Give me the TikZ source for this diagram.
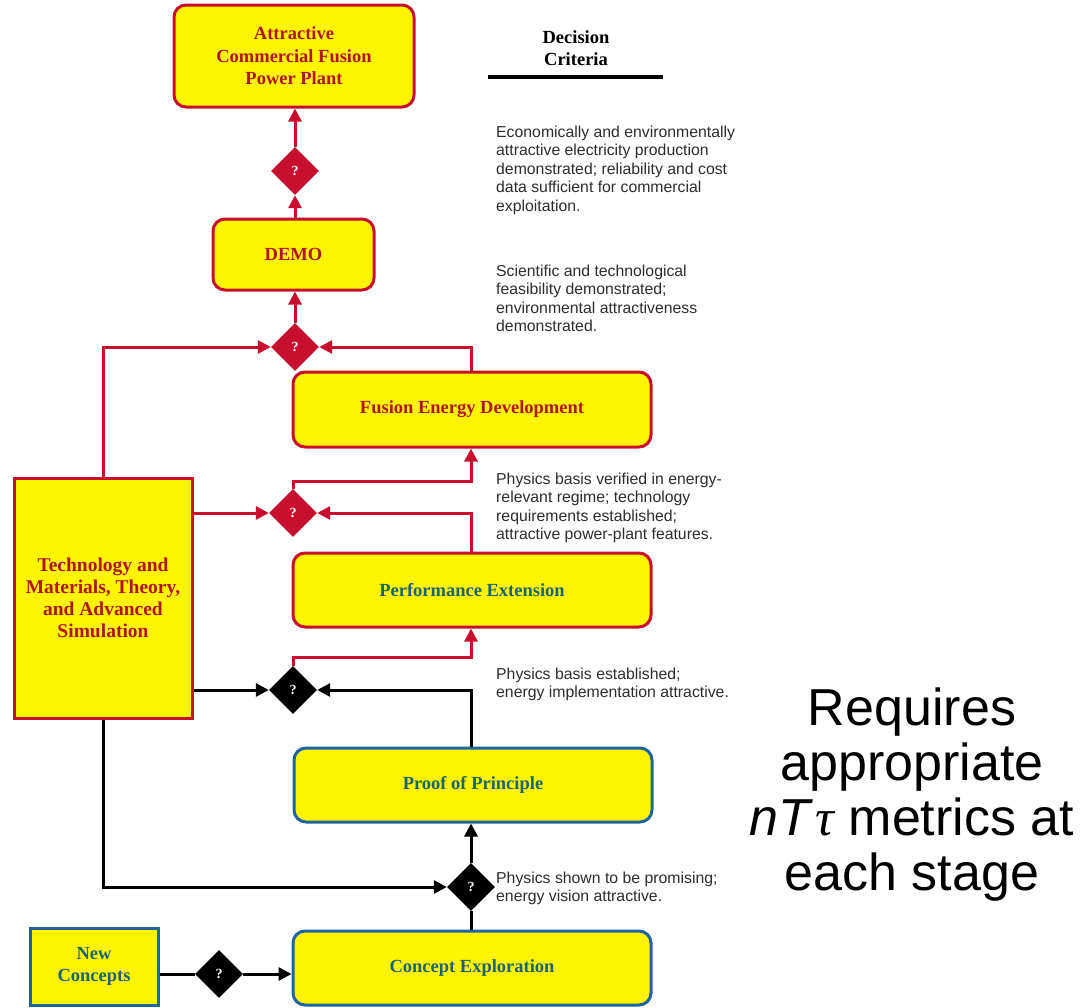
\documentclass[tikz,border=0pt]{standalone}
\usepackage{fontspec}
\setmainfont{Liberation Serif}
\newfontfamily\critfont{Liberation Sans}
\newfontfamily\greekfont{Liberation Serif}
\usetikzlibrary{shapes.geometric,arrows.meta}

\definecolor{fyellow}{RGB}{255,244,0}
\definecolor{fred}{RGB}{200,16,46}
\definecolor{ftext}{RGB}{176,22,30}
\definecolor{fteal}{RGB}{28,100,112}
\definecolor{fblue}{RGB}{30,100,160}
\definecolor{fgray}{RGB}{45,45,45}

\begin{document}
\begin{tikzpicture}[x=1pt,y=-1pt,
  stage/.style={draw=fred, fill=fyellow, line width=3pt, rounded corners=12pt,
    inner sep=0pt, align=center, text=ftext,
    font=\bfseries\fontsize{18.5}{22.5}\selectfont},
  bluestage/.style={stage, draw=fblue, text=fteal},
  gate/.style={diamond, aspect=1, minimum width=48pt, minimum height=48pt,
    inner sep=0pt, text=white, font=\bfseries\fontsize{14}{14}\selectfont},
  redgate/.style={gate, fill=fred},
  blackgate/.style={gate, fill=black},
  redflow/.style={draw=fred, line width=3pt},
  blackflow/.style={draw=black, line width=3pt},
  tip/.style={-{Triangle[length=13pt,width=13pt]}},
  % multi-line notes: the base anchor sits on the last line
  note/.style={anchor=base west, align=left, inner sep=0pt, text=fgray,
    font=\critfont\fontsize{15.8}{18.5}\selectfont}
]
\useasboundingbox[fill=white] (0,0) rectangle (1086,1007);

% stages
\node[stage, minimum width=240pt, minimum height=102pt] (plant) at (294,56)
  {Attractive\\Commercial Fusion\\Power Plant};
\node[stage, minimum width=161pt, minimum height=71pt] (demo) at (293.5,254.5) {DEMO};
\node[stage, minimum width=358pt, minimum height=75pt] (fed) at (472,409.5)
  {Fusion Energy Development};
\node[stage, text=fteal, minimum width=358pt, minimum height=74pt] (perf) at (472,590)
  {Performance Extension};
\node[bluestage, minimum width=358pt, minimum height=74pt] (pop) at (473,785)
  {Proof of Principle};
\node[bluestage, minimum width=358pt, minimum height=74pt] (cexp) at (472,968)
  {Concept Exploration};
\node[stage, rounded corners=0pt, minimum width=178pt, minimum height=240pt,
  font=\bfseries\fontsize{19.5}{22}\selectfont] (tech) at (103,598)
  {Technology and\\Materials, Theory,\\and Advanced\\Simulation};
\node[bluestage, rounded corners=0pt, minimum width=128pt, minimum height=77pt] (newc) at (94,966.5)
  {New\\Concepts};

% decision gates
\node[redgate] (g1) at (295,171) {?};
\node[redgate] (g2) at (295,347) {?};
\node[redgate] (g3) at (293,513) {?};
\node[blackgate] (g4) at (293,690) {?};
\node[blackgate] (g5) at (471,887) {?};
\node[blackgate] (g6) at (219,974) {?};

% flow
\draw[redflow,tip] (g1.north) -- (g1.north |- plant.south);
\draw[redflow,tip] (g1.south |- demo.north) -- (g1.south);
\draw[redflow,tip] (g2.north) -- (g2.north |- demo.south);
\draw[redflow,tip] (tech.north) |- (g2.west);
\draw[redflow,tip] (fed.north -| g5) |- (g2.east);
\draw[redflow,tip] (g3.north) -- ++(0,-7) -| (fed.south -| g5);
\draw[redflow,tip] (tech.east |- g3.west) -- (g3.west);
\draw[redflow,tip] (perf.north -| g5) |- (g3.east);
\draw[redflow,tip] (g4.north) -- ++(0,-8) -| (perf.south -| g5);
\draw[blackflow,tip] (tech.east |- g4.west) -- (g4.west);
\draw[blackflow,tip] (pop.north -| g5) |- (g4.east);
\draw[blackflow,tip] (g5.north) -- (g5.north |- pop.south);
\draw[blackflow,tip] (tech.south) |- (g5.west);
\draw[blackflow] (cexp.north -| g5) -- (g5.south);
\draw[blackflow] (newc.east |- g6.west) -- (g6.west);
\draw[blackflow,tip] (g6.east) -- (cexp.west |- g6.east);

% decision criteria column
\node[align=center, inner sep=0pt, font=\bfseries\fontsize{18.5}{22}\selectfont] (head) at (576,48)
  {Decision\\Criteria};
\draw[line width=4pt] (488,77) -- (663,77);

\node[note] (c1) at (496,211) {Economically and environmentally\\attractive electricity production\\demonstrated; reliability and cost\\data sufficient for commercial\\exploitation.};
\node[note] (c2) at (496,331.5) {Scientific and technological\\feasibility demonstrated;\\environmental attractiveness\\demonstrated.};
\node[note] (c3) at (496,539.5) {Physics basis verified in energy-\\relevant regime; technology\\requirements established;\\attractive power-plant features.};
\node[note] (c4) at (496,697.5) {Physics basis established;\\energy implementation attractive.};
\node[note] (c5) at (496,901.5) {Physics shown to be promising;\\energy vision attractive.};

% side remark
\node[align=center, inner sep=0pt, anchor=base, font=\critfont\fontsize{52}{55}\selectfont] (req) at (912,890)
  {Requires\\appropriate\\\textit{nT}\kern2pt{\greekfont\itshape τ} metrics at\\each stage};
\end{tikzpicture}
\end{document}
